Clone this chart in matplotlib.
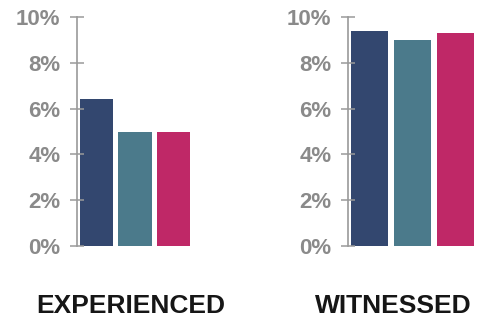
import matplotlib.pyplot as plt
from matplotlib.ticker import FuncFormatter

plt.rcParams['font.family'] = ['Liberation Sans', 'DejaVu Sans']

# share of respondents (%), three groups per panel
groups = ['EXPERIENCED', 'WITNESSED']
experienced = [6.4, 5.0, 5.0]
witnessed = [9.4, 9.0, 9.3]
colors = ['#33476f', '#4b7a8b', '#bf2867']
yticks = [0, 2, 4, 6, 8, 10]

fig = plt.figure(figsize=(4.79, 3.22), dpi=100)
W, H = 479, 322

# axes placed in pixel units: (left, right, label centre)
panels = [(experienced, 77, 193, 131), (witnessed, 348, 477, 393)]
for (vals, x0, x1, xc), name in zip(panels, groups):
    ax = fig.add_axes([x0 / W, (H - 246) / H, (x1 - x0) / W, 229 / H])
    ax.bar(range(len(vals)), vals, width=0.86, color=colors)
    ax.set_xlim(-0.5, 2.5)
    ax.set_ylim(0, 10)
    ax.set_yticks(yticks)
    ax.yaxis.set_major_formatter(FuncFormatter(lambda v, p: f'{v:.0f}%'))
    for s in ['top', 'right', 'bottom']:
        ax.spines[s].set_visible(False)
    ax.spines['left'].set_color('#9a9a9a')
    ax.spines['left'].set_linewidth(1.2)
    ax.set_xticks([])
    ax.tick_params(axis='y', direction='inout', length=10, width=1.1,
                   color='#9a9a9a', labelcolor='#8a8a8a', labelsize=16,
                   pad=7)
    for lbl in ax.get_yticklabels():
        lbl.set_fontweight('bold')
    fig.text(xc / W, (H - 306) / H, name, ha='center', va='center',
             fontsize=19, fontweight='bold', color='#161616')

fig.savefig('out.png', dpi=100)
